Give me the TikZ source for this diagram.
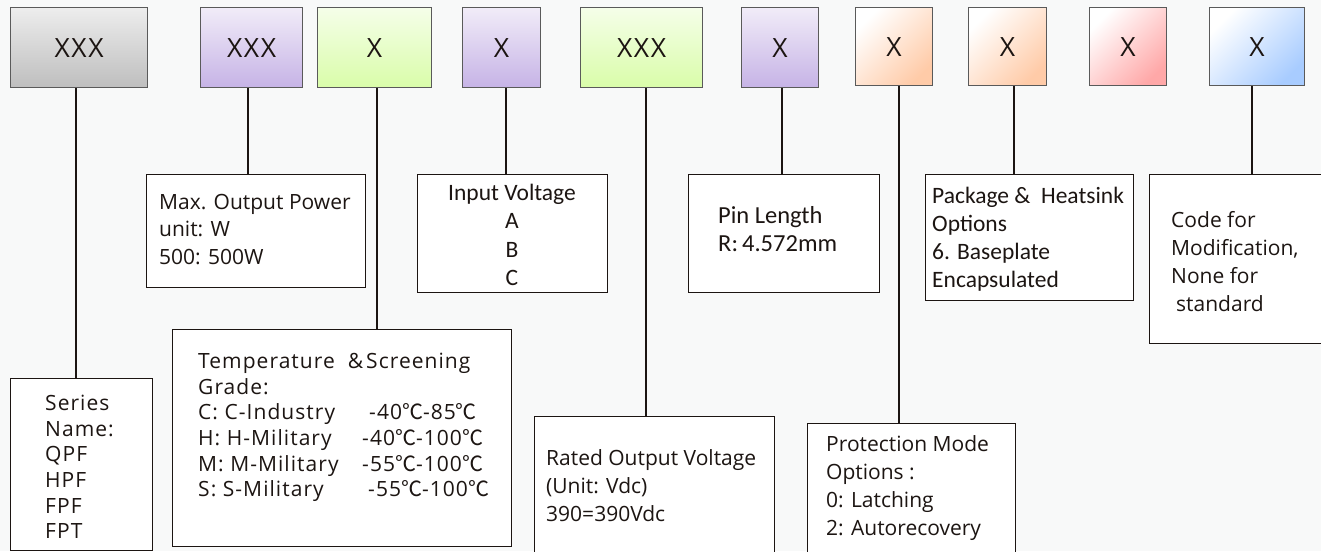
\documentclass[tikz,border=0pt]{standalone}
\usepackage{fontspec}
\setmainfont{Open Sans}
\newfontfamily\widef[LetterSpace=5]{Open Sans}
\newfontfamily\topf[LetterSpace=6]{Open Sans}
\newfontfamily\narrowf{Carlito}
\newfontfamily\cjkf{Noto Sans CJK SC}
\newcommand{\degC}{{\cjkf ℃}}
\definecolor{bg}{HTML}{F8F9F9}
\definecolor{ink}{HTML}{1C1512}
\definecolor{topborder}{HTML}{5A5A5A}
\definecolor{grayB}{HTML}{BEBEBE}
\definecolor{grayT}{HTML}{EDEDED}
\definecolor{purT}{HTML}{F1ECF8}
\definecolor{purB}{HTML}{C6B3E6}
\definecolor{grnT}{HTML}{F5FEE9}
\definecolor{grnB}{HTML}{D9FDA9}
\definecolor{oraB}{HTML}{FFCBA8}
\definecolor{pnkB}{HTML}{FFA8A8}
\definecolor{bluB}{HTML}{A8CCFF}
\begin{document}
\begin{tikzpicture}[x=1pt,y=-1pt,
  topbox/.style={draw=topborder, line width=1.2pt, inner sep=0pt, anchor=north west,
    minimum height=80pt, text=ink, font=\fontsize{26.5}{30}\selectfont\topf},
  vgrad/.style 2 args={top color=#1, bottom color=#2},
  dgrad/.style={top color=white, bottom color=#1, shading angle=45},
  lowbox/.style={draw=ink, line width=1.2pt, fill=white, inner sep=0pt, anchor=north west},
  txt/.style={inner sep=0pt, anchor=north west, align=left, text=ink},
  opfont/.style={font=\fontsize{21}{#1}\selectfont},
  widefont/.style={font=\fontsize{21}{25.6}\selectfont\widef},
  narfont/.style 2 args={font=\fontsize{#1}{#2}\selectfont\narrowf},
  conn/.style={draw=ink, line width=2pt}]
\useasboundingbox (0,0) rectangle (1321,551);
\clip (0,0) rectangle (1321,551);
\fill[bg] (0,0) rectangle (1321,551);

% top code boxes
\node[topbox, vgrad={grayT}{grayB}, minimum width=137pt] (t1) at (10,7) {XXX};
\node[topbox, vgrad={purT}{purB}, minimum width=102pt] (t2) at (200,7) {XXX};
\node[topbox, vgrad={grnT}{grnB}, minimum width=114pt] (t3) at (317,7) {X};
\node[topbox, vgrad={purT}{purB}, minimum width=78pt] (t4) at (462,7) {X};
\node[topbox, vgrad={grnT}{grnB}, minimum width=122pt] (t5) at (580,7) {XXX};
\node[topbox, vgrad={purT}{purB}, minimum width=77pt] (t6) at (741,7) {X};
\node[topbox, dgrad=oraB, minimum width=77pt, minimum height=78pt] (t7) at (855,7) {X};
\node[topbox, dgrad=oraB, minimum width=78pt, minimum height=78pt] (t8) at (968,7) {X};
\node[topbox, dgrad=pnkB, minimum width=77pt, minimum height=78pt] (t9) at (1089,7) {X};
\node[topbox, dgrad=bluB, minimum width=95pt, minimum height=78pt] (t10) at (1209,7) {X};

% description boxes
\node[lowbox, minimum width=142pt, minimum height=172pt] (b1) at (10,378) {};
\node[lowbox, minimum width=219pt, minimum height=113pt] (b2) at (146,174) {};
\node[lowbox, minimum width=339pt, minimum height=217pt] (b3) at (172,329) {};
\node[lowbox, minimum width=190pt, minimum height=118pt] (b4) at (417,174) {};
\node[lowbox, minimum width=240pt, minimum height=150pt] (b5) at (534,416) {};
\node[lowbox, minimum width=191pt, minimum height=118pt] (b6) at (688,174) {};
\node[lowbox, minimum width=208pt, minimum height=150pt] (b7) at (807,423) {};
\node[lowbox, minimum width=208pt, minimum height=126pt] (b8) at (925,174) {};
\node[lowbox, minimum width=190pt, minimum height=169pt] (b9) at (1149,174) {};

% texts
\node[txt, widefont] (x1) at (45,395) {Series\\Name:\\QPF\\HPF\\FPF\\FPT};
\node[txt, opfont=27.5] (x2) at (159,194) {Max. Output Power\\unit: W\\500: 500W};
\node[txt, widefont] (x3) at (198,353) {Temperature\ \ \&\hspace{3pt}Screening\\Grade:\\
  \makebox[171pt][l]{C: C-Industry}-40\degC-85\degC\\
  \makebox[164pt][l]{H: H-Military}-40\degC-100\degC\\
  \makebox[164pt][l]{M: M-Military}-55\degC-100\degC\\
  \makebox[170pt][l]{S: S-Military}-55\degC-100\degC};
\node[txt, narfont={23.5}{28.3}, anchor=north, align=center] (x4) at (512,184) {Input Voltage\\A\\B\\C};
\node[txt, opfont=28] (x5) at (546,449) {Rated Output Voltage\\(Unit: Vdc)\\390=390Vdc};
\node[txt, narfont={24.5}{28}] (x6) at (718,206) {Pin Length\\R:\,4.572mm};
\node[txt, opfont=28] (x7) at (826,435) {Protection Mode\\Options\ :\\0: Latching\\2: Autorecovery};
\node[txt, narfont={23.5}{28}] (x8) at (932,187) {Package \&\ \ Heatsink\\Options\\6. Baseplate\\Encapsulated};
\node[txt, opfont=28] (x9) at (1171,211) {Code for\\Modification,\\None for\\\hspace*{5pt}standard};

% connectors
\draw[conn] ([xshift=-3.5pt]t1.south) -- ([xshift=-3.5pt]t1.south |- b1.north);
\draw[conn] ([xshift=-4pt]t2.south) -- ([xshift=-4pt]t2.south |- b2.north);
\draw[conn] ([xshift=2pt]t3.south) -- ([xshift=2pt]t3.south |- b3.north);
\draw[conn] ([xshift=4pt]t4.south) -- ([xshift=4pt]t4.south |- b4.north);
\draw[conn] ([xshift=4pt]t5.south) -- ([xshift=4pt]t5.south |- b5.north);
\draw[conn] ([xshift=1.5pt]t6.south) -- ([xshift=1.5pt]t6.south |- b6.north);
\draw[conn] ([xshift=4.5pt]t7.south) -- ([xshift=4.5pt]t7.south |- b7.north);
\draw[conn] ([xshift=6pt]t8.south) -- ([xshift=6pt]t8.south |- b8.north);
\draw[conn] ([xshift=-5.5pt]t10.south) -- ([xshift=-5.5pt]t10.south |- b9.north);
\end{tikzpicture}
\end{document}
